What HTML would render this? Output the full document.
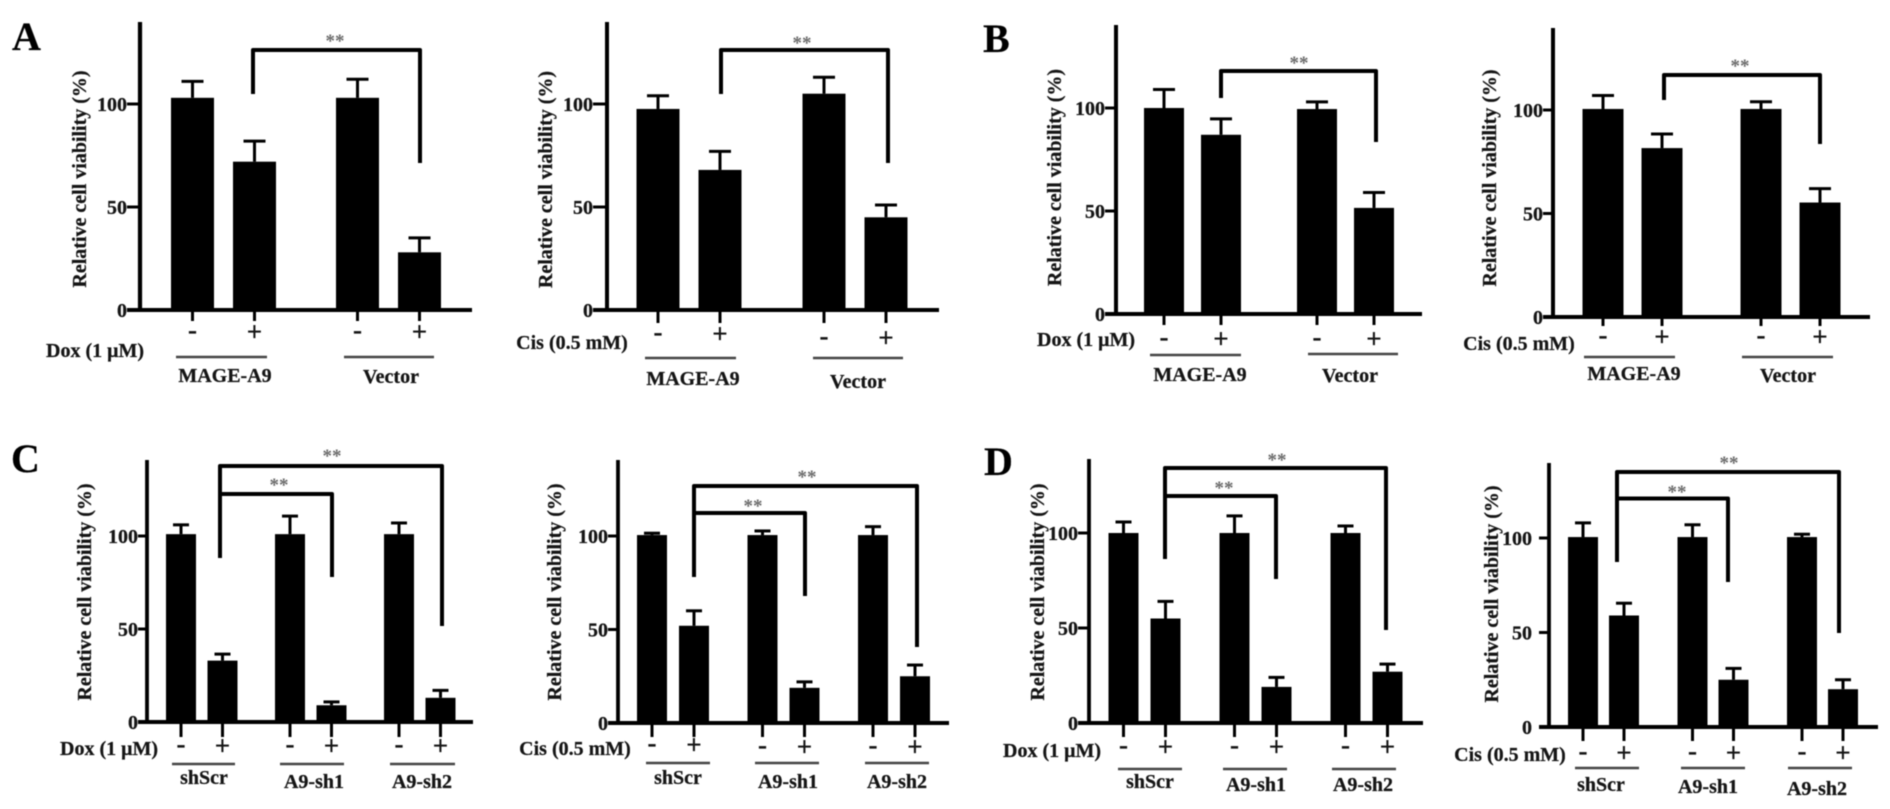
<!DOCTYPE html>
<html lang="en">
<head>
<meta charset="utf-8">
<title>Relative cell viability panels A-D</title>
<style>
  html, body { margin: 0; padding: 0; background: #fff; width: 1890px; height: 809px; overflow: hidden; }
  svg { display: block; filter: blur(0.6px); }
  text { font-family: "Liberation Serif", "DejaVu Serif", serif; font-weight: bold; fill: #151515; stroke: #151515; stroke-width: 0.25px; }
  .title { font-size: 20px; text-anchor: middle; }
  .letter { font-size: 40px; fill: #000; }
  .label { font-size: 20px; text-anchor: middle; }
  .stars { font-size: 19px; text-anchor: middle; fill: #6a6a6a; stroke: none; }
  .bracket { fill: none; stroke: #000; stroke-width: 4; stroke-linejoin: round; }
  .rule { stroke: #444; stroke-width: 2.6; }
</style>
</head>
<body>
<svg id="figure" xmlns="http://www.w3.org/2000/svg" width="1890" height="809" viewBox="0 0 1890 809">
  <rect x="0" y="0" width="1890" height="809" fill="#fff"/>

  <text class="letter" x="12" y="50">A</text>
  <text class="letter" x="983" y="52">B</text>
  <text class="letter" x="11" y="472">C</text>
  <text class="letter" x="984" y="475">D</text>

  <g id="panel-a1"></g>
  <g id="panel-a2"></g>
  <g id="panel-b1"></g>
  <g id="panel-b2"></g>
  <g id="panel-c1"></g>
  <g id="panel-c2"></g>
  <g id="panel-d1"></g>
  <g id="panel-d2"></g>

  <!-- y axis titles -->
  <text class="title" transform="translate(86 179) rotate(-90)">Relative cell viability (%)</text>
  <text class="title" transform="translate(552 179.5) rotate(-90)">Relative cell viability (%)</text>
  <text class="title" transform="translate(1061 177.5) rotate(-90)">Relative cell viability (%)</text>
  <text class="title" transform="translate(1496 178) rotate(-90)">Relative cell viability (%)</text>
  <text class="title" transform="translate(91 592) rotate(-90)">Relative cell viability (%)</text>
  <text class="title" transform="translate(561 592) rotate(-90)">Relative cell viability (%)</text>
  <text class="title" transform="translate(1044 592) rotate(-90)">Relative cell viability (%)</text>
  <text class="title" transform="translate(1498 594) rotate(-90)">Relative cell viability (%)</text>

  <!-- treatment labels -->
  <text class="label" x="95" y="357">Dox (1 μM)</text>
  <text class="label" x="572" y="349">Cis (0.5 mM)</text>
  <text class="label" x="1086" y="346">Dox (1 μM)</text>
  <text class="label" x="1519" y="350">Cis (0.5 mM)</text>
  <text class="label" x="109" y="755">Dox (1 μM)</text>
  <text class="label" x="575" y="755">Cis (0.5 mM)</text>
  <text class="label" x="1052" y="757">Dox (1 μM)</text>
  <text class="label" x="1510" y="761">Cis (0.5 mM)</text>

  <!-- group rules -->
  <g>
    <line class="rule" x1="176" x2="267" y1="357" y2="357"/>
    <line class="rule" x1="344" x2="434" y1="357" y2="357"/>
    <line class="rule" x1="645" x2="736" y1="358" y2="358"/>
    <line class="rule" x1="813" x2="903" y1="358" y2="358"/>
    <line class="rule" x1="1150" x2="1241" y1="355" y2="355"/>
    <line class="rule" x1="1308" x2="1398" y1="354" y2="354"/>
    <line class="rule" x1="1584" x2="1675" y1="357" y2="357"/>
    <line class="rule" x1="1742" x2="1833" y1="357" y2="357"/>
    <line class="rule" x1="172" x2="235" y1="764" y2="764"/>
    <line class="rule" x1="280" x2="344" y1="764" y2="764"/>
    <line class="rule" x1="390" x2="455" y1="764" y2="764"/>
    <line class="rule" x1="646" x2="710" y1="763" y2="763"/>
    <line class="rule" x1="755" x2="819" y1="763" y2="763"/>
    <line class="rule" x1="865" x2="929" y1="763" y2="763"/>
    <line class="rule" x1="1118" x2="1182" y1="769" y2="769"/>
    <line class="rule" x1="1223" x2="1287" y1="769" y2="769"/>
    <line class="rule" x1="1332" x2="1396" y1="769" y2="769"/>
    <line class="rule" x1="1575" x2="1639" y1="768" y2="768"/>
    <line class="rule" x1="1681" x2="1745" y1="768" y2="768"/>
    <line class="rule" x1="1788" x2="1852" y1="768" y2="768"/>
  </g>

  <!-- group labels -->
  <text class="label" x="225" y="382">MAGE-A9</text>
  <text class="label" x="391" y="383">Vector</text>
  <text class="label" x="693" y="385">MAGE-A9</text>
  <text class="label" x="858" y="388">Vector</text>
  <text class="label" x="1200" y="381">MAGE-A9</text>
  <text class="label" x="1350" y="382">Vector</text>
  <text class="label" x="1634" y="380">MAGE-A9</text>
  <text class="label" x="1788" y="382">Vector</text>

  <text class="label" x="204" y="784">shScr</text>
  <text class="label" x="314" y="788">A9-sh1</text>
  <text class="label" x="422" y="788">A9-sh2</text>
  <text class="label" x="678" y="784">shScr</text>
  <text class="label" x="788" y="788">A9-sh1</text>
  <text class="label" x="897" y="788">A9-sh2</text>
  <text class="label" x="1150" y="788">shScr</text>
  <text class="label" x="1256" y="791">A9-sh1</text>
  <text class="label" x="1363" y="791">A9-sh2</text>
  <text class="label" x="1601" y="791">shScr</text>
  <text class="label" x="1708" y="793">A9-sh1</text>
  <text class="label" x="1817" y="795">A9-sh2</text>

  <!-- significance brackets -->
  <path class="bracket" d="M253 94V50H420V163"/>
  <path class="bracket" d="M721 94V50H888V163"/>
  <path class="bracket" d="M1221 98V71H1376V142"/>
  <path class="bracket" d="M1664 100V75H1820V144"/>
  <path class="bracket" d="M220 558V466H442V626"/>
  <path class="bracket" d="M220 494H332V577"/>
  <path class="bracket" d="M694 577V486H917V647"/>
  <path class="bracket" d="M694 513H805V596"/>
  <path class="bracket" d="M1165 559V468H1386V630"/>
  <path class="bracket" d="M1165 496H1276V579"/>
  <path class="bracket" d="M1617 562V472H1839V633"/>
  <path class="bracket" d="M1617 498.5H1728V582"/>

  <!-- significance stars -->
  <text class="stars" x="335" y="47">**</text>
  <text class="stars" x="802" y="49">**</text>
  <text class="stars" x="1299" y="69">**</text>
  <text class="stars" x="1740" y="72">**</text>
  <text class="stars" x="332" y="462">**</text>
  <text class="stars" x="279" y="491">**</text>
  <text class="stars" x="807" y="483">**</text>
  <text class="stars" x="753" y="512">**</text>
  <text class="stars" x="1277" y="466">**</text>
  <text class="stars" x="1224" y="494">**</text>
  <text class="stars" x="1729" y="469">**</text>
  <text class="stars" x="1677" y="498">**</text>
</svg>

<script>
// Shared axis labels
const yTickValues = [0, 50, 100];
const yTickLabels = ['0', '50', '100'];
const treatmentsTwoGroups = ['-', '+', '-', '+'];
const treatmentsThreeGroups = ['-', '+', '-', '+', '-', '+'];

// Panel A, doxorubicin
const a1Means = [103, 72, 103, 28];
const a1ErrorTops = [111, 82, 112, 35];
// Panel A, cisplatin
const a2Means = [97.6, 68, 105, 45];
const a2ErrorTops = [104, 77, 113, 51];
// Panel B, doxorubicin
const b1Means = [100, 87, 99.5, 51.5];
const b1ErrorTops = [109, 94.7, 103, 59];
// Panel B, cisplatin
const b2Means = [100.5, 81.6, 100.5, 55.3];
const b2ErrorTops = [107, 88.4, 104, 62];
// Panel C, doxorubicin
const c1Means = [101, 33, 101, 9, 101, 13];
const c1ErrorTops = [106, 36.5, 110.7, 10.8, 107, 17];
// Panel C, cisplatin
const c2Means = [100.5, 52, 100.5, 18.8, 100.5, 25];
const c2ErrorTops = [101.5, 60, 102.7, 22, 105, 31];
// Panel D, doxorubicin
const d1Means = [100, 55, 100, 19, 100, 27];
const d1ErrorTops = [105.8, 64, 109, 24, 103.7, 31];
// Panel D, cisplatin
const d2Means = [100.5, 59, 100.5, 25, 100.5, 20];
const d2ErrorTops = [108, 65.5, 107, 31, 102, 25];

const SVG_NS = 'http://www.w3.org/2000/svg';

function shape(parent, tag, attrs) {
  const el = document.createElementNS(SVG_NS, tag);
  for (const key in attrs) el.setAttribute(key, attrs[key]);
  parent.appendChild(el);
  return el;
}

function drawPanel(id, means, errorTops, treatments, layout) {
  const host = document.getElementById(id);
  const y = function (value) {
    return layout.y0 - value * (layout.y0 - layout.y100) / 100;
  };
  const x = function (index) {
    const group = Math.floor(index / 2);
    return layout.first + group * layout.groupStep + (index % 2) * layout.barStep;
  };

  means.forEach(function (mean, i) {
    const cx = x(i);
    const bar = shape(host, 'rect', {
      x: cx - layout.barWidth / 2,
      y: y(mean),
      width: layout.barWidth,
      height: y(0) - y(mean),
      fill: '#000'
    });
    
    

    const stem = shape(host, 'line', {
      x1: cx, x2: cx, y1: y(mean), y2: y(errorTops[i]),
      stroke: '#000', 'stroke-width': 3
    });
    
    

    const cap = shape(host, 'line', {
      x1: cx - layout.capWidth / 2, x2: cx + layout.capWidth / 2,
      y1: y(errorTops[i]), y2: y(errorTops[i]),
      stroke: '#000', 'stroke-width': 3
    });
    
    

    const xTick = shape(host, 'line', {
      x1: cx, x2: cx, y1: layout.y0, y2: layout.y0 + layout.tickLength,
      stroke: '#000', 'stroke-width': 3
    });
    
    

    const sign = treatments[i];
    const signY = layout.markY[Math.floor(i / 2)];
    const mark = shape(host, 'text', {
      x: cx,
      y: signY + (sign === '+' ? 7.5 : 6),
      'text-anchor': 'middle',
      'font-size': 27
    });
    mark.textContent = sign;
    
    
  });

  const yAxis = shape(host, 'line', {
    x1: layout.axisX, x2: layout.axisX, y1: layout.axisTop, y2: layout.y0 + 2,
    stroke: '#000', 'stroke-width': layout.axisWidth
  });
  
  

  const xAxis = shape(host, 'line', {
    x1: layout.tickLeft, x2: layout.axisEnd, y1: layout.y0, y2: layout.y0,
    stroke: '#000', 'stroke-width': 4
  });
  
  

  yTickValues.forEach(function (value, i) {
    const tick = shape(host, 'line', {
      x1: layout.tickLeft, x2: layout.axisX, y1: y(value), y2: y(value),
      stroke: '#000', 'stroke-width': 3
    });
    
    

    const label = shape(host, 'text', {
      x: layout.tickLeft - layout.labelGap,
      y: y(value) + 7,
      'text-anchor': 'end',
      'font-size': 20
    });
    label.textContent = yTickLabels[i];
    
    
  });
}

drawPanel('panel-a1', a1Means, a1ErrorTops, treatmentsTwoGroups, {
  axisX: 140, axisTop: 22, axisEnd: 472, axisWidth: 4.2, y0: 310, y100: 104, tickLeft: 127, labelGap: 0,
  first: 192.5, barStep: 62, groupStep: 165, barWidth: 43, capWidth: 22, tickLength: 11, markY: [333, 333]
});
drawPanel('panel-a2', a2Means, a2ErrorTops, treatmentsTwoGroups, {
  axisX: 607, axisTop: 22, axisEnd: 939, axisWidth: 4, y0: 310, y100: 104, tickLeft: 593, labelGap: 0,
  first: 658, barStep: 62, groupStep: 166, barWidth: 43, capWidth: 22, tickLength: 13, markY: [335, 339]
});
drawPanel('panel-b1', b1Means, b1ErrorTops, treatmentsTwoGroups, {
  axisX: 1116, axisTop: 25, axisEnd: 1422, axisWidth: 4, y0: 314, y100: 108, tickLeft: 1105, labelGap: 0,
  first: 1164, barStep: 57, groupStep: 153, barWidth: 40, capWidth: 22, tickLength: 11, markY: [340, 340]
});
drawPanel('panel-b2', b2Means, b2ErrorTops, treatmentsTwoGroups, {
  axisX: 1553, axisTop: 28, axisEnd: 1870, axisWidth: 4, y0: 317, y100: 110, tickLeft: 1543, labelGap: 0,
  first: 1603, barStep: 59, groupStep: 158, barWidth: 41, capWidth: 22, tickLength: 9, markY: [338, 338]
});
drawPanel('panel-c1', c1Means, c1ErrorTops, treatmentsThreeGroups, {
  axisX: 147, axisTop: 460, axisEnd: 473, axisWidth: 3.8, y0: 722, y100: 536, tickLeft: 138, labelGap: 0,
  first: 181, barStep: 41.5, groupStep: 109, barWidth: 30, capWidth: 16, tickLength: 15, markY: [747, 747, 747]
});
drawPanel('panel-c2', c2Means, c2ErrorTops, treatmentsThreeGroups, {
  axisX: 618, axisTop: 460, axisEnd: 949, axisWidth: 3.8, y0: 723, y100: 536, tickLeft: 608, labelGap: 0,
  first: 652, barStep: 42, groupStep: 110.5, barWidth: 30, capWidth: 16, tickLength: 14, markY: [746, 748, 748]
});
drawPanel('panel-d1', d1Means, d1ErrorTops, treatmentsThreeGroups, {
  axisX: 1089, axisTop: 459, axisEnd: 1423, axisWidth: 3.8, y0: 723, y100: 533, tickLeft: 1078, labelGap: 0,
  first: 1123.5, barStep: 42, groupStep: 111, barWidth: 30, capWidth: 16, tickLength: 14, markY: [748, 748, 748]
});
drawPanel('panel-d2', d2Means, d2ErrorTops, treatmentsThreeGroups, {
  axisX: 1549, axisTop: 463, axisEnd: 1878, axisWidth: 3.8, y0: 727, y100: 538, tickLeft: 1539, labelGap: 7,
  first: 1583, barStep: 41, groupStep: 109.5, barWidth: 30, capWidth: 16, tickLength: 14, markY: [754, 754, 754]
});
</script>
</body>
</html>
